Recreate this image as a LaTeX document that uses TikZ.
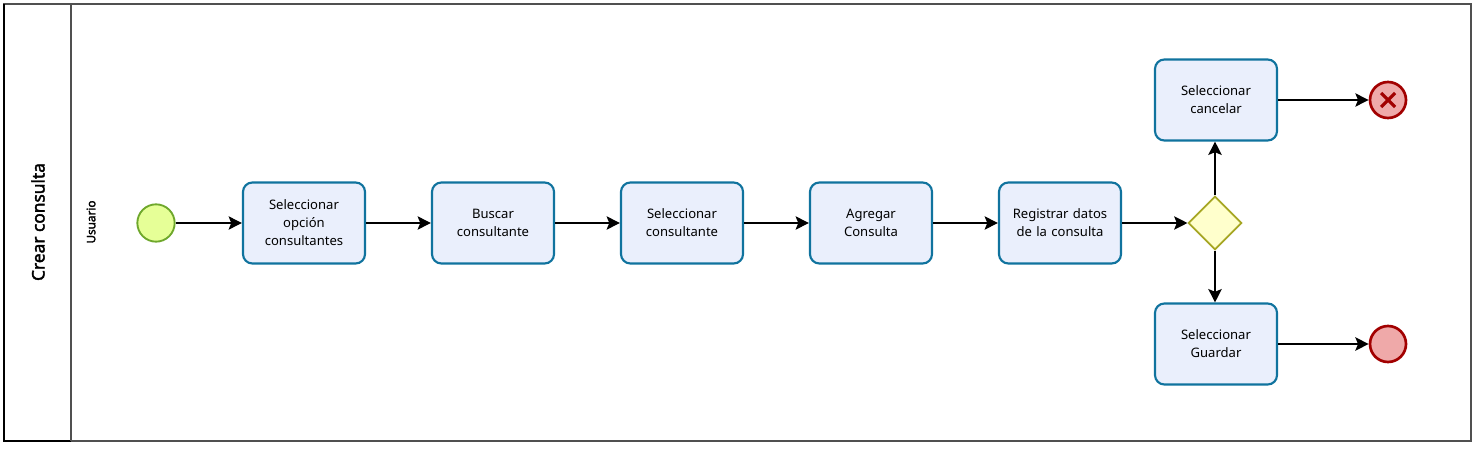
\documentclass[tikz,border=0pt]{standalone}
\usepackage{fontspec}
\setmainfont{Noto Sans}
\newfontfamily\headfont{Noto Sans}[FakeBold=2.2]
\usetikzlibrary{shapes.geometric,arrows.meta,positioning}
\definecolor{taskfill}{HTML}{EAEFFC}
\definecolor{taskline}{HTML}{10739E}
\definecolor{startfill}{HTML}{E6FF97}
\definecolor{startline}{HTML}{6FA82C}
\definecolor{gatefill}{HTML}{FFFFCC}
\definecolor{gateline}{HTML}{A6A623}
\definecolor{endfill}{HTML}{EFA9A9}
\definecolor{endline}{HTML}{A20000}
\definecolor{poolline}{HTML}{505050}
\begin{document}
\begin{tikzpicture}[
      x=0.75pt, y=-0.75pt,
      every node/.style={font=\fontsize{9.8}{13.5}\selectfont},
      task/.style={draw=taskline, fill=taskfill, line width=1.6pt, rounded corners=7pt,
        minimum width=91.5pt, minimum height=60.75pt, inner sep=2pt, align=center, text width=86pt},
      startev/.style={circle, draw=startline, fill=startfill, line width=1.4pt, minimum size=28pt, inner sep=0pt},
      endev/.style={circle, draw=endline, fill=endfill, line width=2pt, minimum size=27pt, inner sep=0pt},
      gate/.style={diamond, draw=gateline, fill=gatefill, line width=1.3pt, minimum size=40pt, inner sep=0pt, aspect=1},
      flow/.style={draw, line width=0.9pt, -{Stealth[length=10pt,width=10pt,inset=2pt]}},
      gflow/.style={draw, line width=1.4pt, -{Stealth[length=10pt,width=10pt,inset=2pt]}}
    ]
    \useasboundingbox (0,0) rectangle (1476,449);
    % pool and lane
    \draw[poolline, line width=1.2pt] (1471,4) -- (1471,441) -- (4,441);
    \draw[poolline, line width=0.8pt] (4,4) rectangle (1471,441);
    \draw[black, line width=1pt] (4,4) -- (4,441) -- (71,441);
    \draw[poolline, line width=0.8pt] (71,4) -- (71,441);
    \node[rotate=90, font=\headfont\fontsize{13}{15}\selectfont] (pool) at (38,222) {Crear consulta};
    \node[rotate=90, font=\headfont\fontsize{8.8}{11}\selectfont] (lane) at (91,222) {Usuario};
    % events, tasks, gateway
    \node[startev] (start) at (156,223) {};
    \node[task] (opcion) at (304,223) {Seleccionar\\opción\\consultantes};
    \node[task] (buscar) at (493,223) {Buscar\\consultante};
    \node[task] (selcons) at (682,223) {Seleccionar\\consultante};
    \node[task] (agregar) at (871,223) {Agregar\\Consulta};
    \node[task] (registrar) at (1060,223) {Registrar datos\\de la consulta};
    \node[gate] (gw) at (1215,223) {};
    \node[task] (cancelar) at (1216,100) {Seleccionar\\cancelar};
    \node[task] (guardar) at (1216,344) {Seleccionar\\Guardar};
    \node[endev] (endcancel) at (1388,100) {};
    \node[endev] (endguardar) at (1388,344) {};
    \draw[endline, line width=2.4pt] ([shift={(-7,-7)}]endcancel.center) -- ([shift={(7,7)}]endcancel.center)
      ([shift={(-7,7)}]endcancel.center) -- ([shift={(7,-7)}]endcancel.center);
    % sequence flows
    \path[flow] (start) -- (opcion);
    \path[flow] (opcion) -- (buscar);
    \path[flow] (buscar) -- (selcons);
    \path[flow] (selcons) -- (agregar);
    \path[flow] (agregar) -- (registrar);
    \path[flow] (registrar) -- (gw);
    \path[gflow] (gw.north) -- (gw.north |- cancelar.south);
    \path[gflow] (gw.south) -- (gw.south |- guardar.north);
    \path[flow] (cancelar) -- (endcancel);
    \path[gflow] (guardar) -- (endguardar);
\end{tikzpicture}
\end{document}
